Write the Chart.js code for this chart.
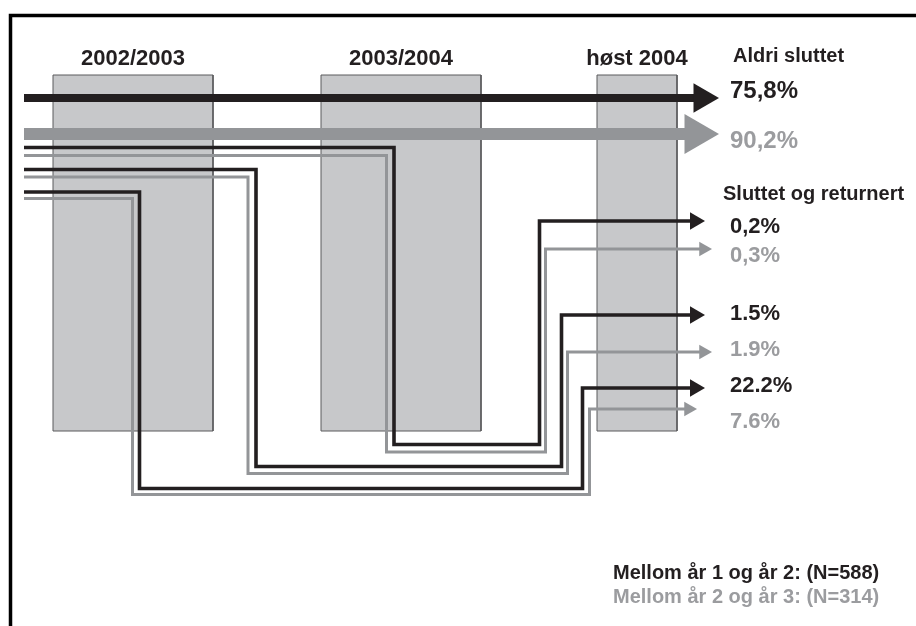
<!DOCTYPE html>
<html>
<head>
<meta charset="utf-8">
<script src="https://cdn.jsdelivr.net/npm/chart.js@4/dist/chart.umd.min.js"></script>
<style>
  html, body { margin: 0; padding: 0; background: #ffffff; }
  #wrap { width: 916px; height: 626px; }
</style>
</head>
<body>
<div id="wrap"><canvas id="c" width="916" height="626"></canvas></div>
<script>
// ---- Data (diagram units: x = time axis, y = track position) ----
const periodLabels = ['2002/2003', '2003/2004', 'høst 2004'];
const periodFrom   = [53, 321, 597];
const periodTo     = [213, 481, 677];
const periodTop    = [75, 75, 75];
const periodBottom = [431, 431, 431];

// "Aldri sluttet" (never quit) flows: group 1 = year1->2, group 2 = year2->3
const stayLabels = ['75,8%', '90,2%'];
const stayGroup  = [1, 2];
const stayY      = [98, 134];
const stayFromX  = [24, 24];
const stayToX    = [702, 696];

// "Sluttet og returnert" (quit and returned) flows
const flowLabels  = ['0,2%', '0,3%', '1.5%', '1.9%', '22.2%', '7.6%'];
const flowGroup   = [1, 2, 1, 2, 1, 2];
const flowStartY  = [147.5, 155.5, 169.5, 177, 192, 198.5];
const flowDropX   = [394, 386.5, 256, 248, 139.5, 132.5];
const flowBottomY = [444.5, 452, 466.5, 473.5, 488.5, 494.5];
const flowRiseX   = [539.5, 545.5, 561.5, 567.5, 582.5, 589.5];
const flowEndY    = [221, 249, 315, 352, 388, 409];
const flowEndX    = [695, 703.5, 695, 703.5, 695, 688.5];
const flowStartX  = 24;

const headings   = ['Aldri sluttet', 'Sluttet og returnert'];
const legendText = ['Mellom år 1 og år 2: (N=588)', 'Mellom år 2 og år 3: (N=314)'];

// ---- Styles ----
const DARK = '#231f20';
const GREY = '#939598';
const GREY_TEXT = '#9b9c9f';
const BAR_FILL = '#c7c8ca';
const BAR_EDGE = '#5a5a5c';
const FONT = '"Liberation Sans", Arial, Helvetica, sans-serif';
const groupColor = g => g === 1 ? DARK : GREY;
const groupText  = g => g === 1 ? DARK : GREY_TEXT;

const datasets = [];

// Frame (left and top border)
datasets.push({
  data: [{x: 10.5, y: 626}, {x: 10.5, y: 15.5}, {x: 916, y: 15.5}],
  borderColor: '#000', borderWidth: 3.5, pointRadius: 0, fill: false,
  borderJoinStyle: 'miter', order: 20
});

// Period bars: fill (top edge filled down to bottom) + outline
periodLabels.forEach((p, i) => {
  datasets.push({
    data: [{x: periodFrom[i], y: periodTop[i]}, {x: periodTo[i], y: periodTop[i]}],
    borderWidth: 0, borderColor: 'rgba(0,0,0,0)', backgroundColor: BAR_FILL,
    pointRadius: 0, fill: {target: {value: periodBottom[i]}}, order: 12
  });
  datasets.push({
    data: [
      {x: periodFrom[i], y: periodBottom[i]}, {x: periodFrom[i], y: periodTop[i]},
      {x: periodTo[i], y: periodTop[i]}, {x: periodTo[i], y: periodBottom[i]},
      {x: periodFrom[i], y: periodBottom[i]}
    ],
    borderColor: BAR_EDGE, borderWidth: 1, pointRadius: 0, fill: false,
    borderJoinStyle: 'miter', order: 11
  });
});

// Big "never quit" arrows
const stayWidth = [8, 12];
const stayHead  = [17, 23];
stayLabels.forEach((l, i) => {
  const c = groupColor(stayGroup[i]);
  datasets.push({
    data: [{x: stayFromX[i], y: stayY[i]}, {x: stayToX[i], y: stayY[i]}],
    borderColor: c, backgroundColor: c, borderWidth: stayWidth[i],
    borderCapStyle: 'butt', fill: false,
    pointStyle: 'triangle', pointRotation: 90,
    pointRadius: ctx => ctx.dataIndex === 1 ? stayHead[i] : 0,
    pointBorderWidth: 0, pointBackgroundColor: c, pointHoverRadius: 0,
    order: 2 + i
  });
});

// Thin "quit and returned" paths
flowLabels.forEach((l, i) => {
  const c = groupColor(flowGroup[i]);
  const pts = [
    {x: flowStartX, y: flowStartY[i]},
    {x: flowDropX[i], y: flowStartY[i]},
    {x: flowDropX[i], y: flowBottomY[i]},
    {x: flowRiseX[i], y: flowBottomY[i]},
    {x: flowRiseX[i], y: flowEndY[i]},
    {x: flowEndX[i], y: flowEndY[i]}
  ];
  const last = pts.length - 1;
  const g = flowGroup[i];
  datasets.push({
    data: pts,
    borderColor: c, backgroundColor: c,
    borderWidth: g === 1 ? 3.6 : 3,
    borderJoinStyle: 'miter', borderCapStyle: 'butt', fill: false,
    pointStyle: 'triangle', pointRotation: 90,
    pointRadius: ctx => ctx.dataIndex === last ? (g === 1 ? 10 : 8.5) : 0,
    pointBorderWidth: 0, pointBackgroundColor: c, pointHoverRadius: 0,
    order: 1
  });
});

// Text annotations placed through the chart's scales
const textPlugin = {
  id: 'texts',
  afterDatasetsDraw(chart) {
    const {ctx, scales: {x, y}} = chart;
    const put = (txt, vx, vy, size, color, align) => {
      ctx.save();
      ctx.font = 'bold ' + size + 'px ' + FONT;
      ctx.fillStyle = color;
      ctx.textAlign = align || 'left';
      ctx.textBaseline = 'alphabetic';
      ctx.fillText(txt, x.getPixelForValue(vx), y.getPixelForValue(vy));
      ctx.restore();
    };
    periodLabels.forEach((p, i) => put(p, (periodFrom[i] + periodTo[i]) / 2, 65, 22, DARK, 'center'));
    put(headings[0], 733, 62, 20, DARK);
    put(headings[1], 723, 200, 20, DARK);
    const stayBase = [98, 148];
    stayLabels.forEach((l, i) => put(l, 730, stayBase[i], 24, groupText(stayGroup[i])));
    const flowBase = [233, 262, 320, 356, 392, 428];
    flowLabels.forEach((l, i) => put(l, 730, flowBase[i], 22, groupText(flowGroup[i])));
    put(legendText[0], 613, 579, 20, DARK);
    put(legendText[1], 613, 603, 20, GREY_TEXT);
  }
};

new Chart(document.getElementById('c'), {
  type: 'line',
  data: { datasets },
  options: {
    responsive: false,
    animation: false,
    events: [],
    layout: { padding: 0, autoPadding: false },
    elements: { line: { tension: 0 } },
    plugins: { legend: { display: false }, tooltip: { enabled: false }, title: { display: false } },
    scales: {
      x: { type: 'linear', min: 0, max: 916, display: false },
      y: { type: 'linear', min: 0, max: 626, reverse: true, display: false }
    }
  },
  plugins: [textPlugin]
});
</script>
</body>
</html>
